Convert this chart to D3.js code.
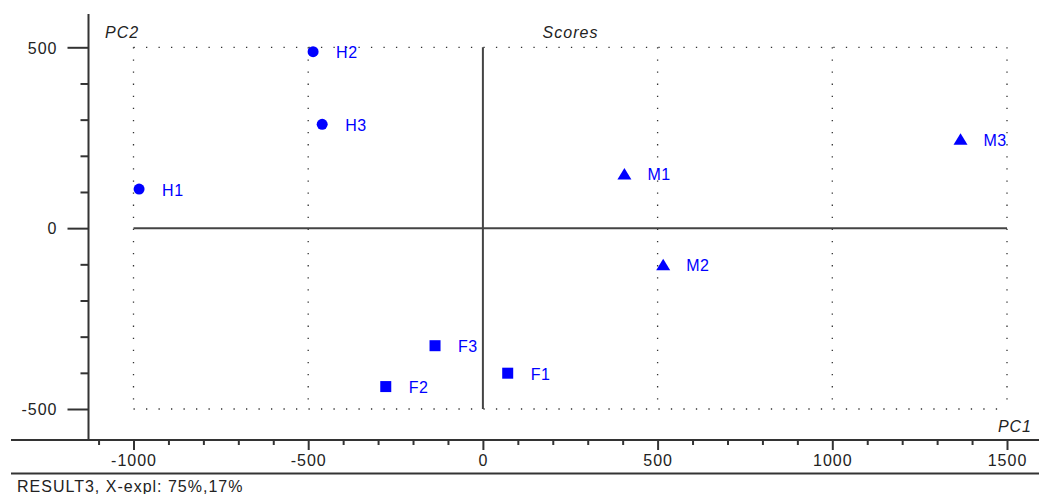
<!DOCTYPE html>
<html><head><meta charset="utf-8">
<script src="https://cdn.jsdelivr.net/npm/d3@7"></script>
<style>
html,body{margin:0;padding:0;background:#fff;}
svg text{font-family:"Liberation Sans",Arial,sans-serif;}
</style></head>
<body>
<svg id="c" width="1039" height="494"></svg>
<script>
// Data
const names   = ["H1","H2","H3","M1","M2","M3","F1","F2","F3"];
const groups  = ["H","H","H","M","M","M","F","F","F"];
const pc1     = [-984,-486,-460,405,516,1367,71,-278,-137];
const pc2     = [108,488,287,150,-101,246,-401,-438,-325];
const xMajor  = [-1000,-500,0,500,1000,1500];
const yMajor  = [-500,0,500];
const xMinor  = d3.range(-1100,1600,100).filter(v=>v%500!==0);
const yMinor  = d3.range(-400,500,100).filter(v=>v%500!==0);
const xGrid   = [-1000,-500,500,1000,1500];
const yGrid   = [-500,500];

const svg = d3.select("#c");
const x = d3.scaleLinear().domain([-1000,1500]).range([133.5,1007]);
const y = d3.scaleLinear().domain([-500,500]).range([409,47.3]);
const axisY = 440, axisX = 88.5;
const ink = "#333";
const fmt = d=>String(d);

// dotted grid
function dotted(x1,y1,x2,y2){
  const len = Math.hypot(x2-x1,y2-y1);
  const step = (x1===x2)?12.05:12.48;
  const n = Math.round(len/step);
  const s = len/n;
  svg.append("line").attr("x1",x1).attr("y1",y1).attr("x2",x2).attr("y2",y2)
    .attr("stroke",ink).attr("stroke-width",1.3)
    .attr("stroke-dasharray",`1.3 ${s-1.3}`);
}
yGrid.forEach(v=>dotted(x(-1000),y(v),x(1500)+1.3,y(v)));
xGrid.forEach(v=>dotted(x(v),y(500),x(v),y(-500)+1.3));

// zero lines
svg.append("line").attr("x1",x(-1000)).attr("x2",x(1500)).attr("y1",y(0)).attr("y2",y(0))
  .attr("stroke","#444").attr("stroke-width",2);
svg.append("line").attr("x1",x(0)).attr("x2",x(0)).attr("y1",y(500)).attr("y2",y(-500))
  .attr("stroke","#444").attr("stroke-width",2);

// axes
const gx = svg.append("g").attr("transform",`translate(0,${axisY})`);
gx.call(d3.axisBottom(x).tickValues(xMajor).tickSize(10).tickPadding(5).tickFormat(fmt));
const gxm = svg.append("g").attr("transform",`translate(0,${axisY})`);
gxm.call(d3.axisBottom(x).tickValues(xMinor).tickSize(5).tickFormat(""));
const gy = svg.append("g").attr("transform",`translate(${axisX},0)`);
gy.call(d3.axisLeft(y).tickValues(yMajor).tickSize(21).tickPadding(10).tickFormat(fmt));
const gym = svg.append("g").attr("transform",`translate(${axisX},0)`);
gym.call(d3.axisLeft(y).tickValues(yMinor).tickSize(8).tickFormat(""));
[gx,gxm,gy,gym].forEach(g=>{
  g.select(".domain").remove();
  g.selectAll("line").attr("stroke",ink).attr("stroke-width",2);
  g.selectAll("text").attr("fill","#222").style("font-size","16px")
   .style("letter-spacing","1px").style("font-family","Liberation Sans, Arial, sans-serif");
});
gx.selectAll("text").attr("dy","0.71em");
gy.selectAll("text").attr("dy","0.36em");

// frame lines
svg.append("line").attr("x1",11).attr("x2",1039).attr("y1",axisY).attr("y2",axisY).attr("stroke",ink).attr("stroke-width",2);
svg.append("line").attr("x1",11).attr("x2",1039).attr("y1",473.5).attr("y2",473.5).attr("stroke",ink).attr("stroke-width",2);
svg.append("line").attr("x1",axisX).attr("x2",axisX).attr("y1",14).attr("y2",axisY).attr("stroke",ink).attr("stroke-width",2);

// titles
const tstyle = s=>s.attr("fill","#222").style("font-size","16px").style("letter-spacing","1px");
tstyle(svg.append("text").attr("x",570.5).attr("y",38).attr("text-anchor","middle").style("font-style","italic").text("Scores"));
tstyle(svg.append("text").attr("x",105).attr("y",38).style("font-style","italic").text("PC2"));
tstyle(svg.append("text").attr("x",1032).attr("y",431.5).attr("text-anchor","end").style("font-style","italic").text("PC1"));
tstyle(svg.append("text").attr("x",17).attr("y",492).text("RESULT3, X-expl: 75%,17%"));

// points
const blue = "#0000ff";
const data = names.map((n,i)=>({n,g:groups[i],x:pc1[i],y:pc2[i]}));
const pts = svg.append("g");
data.forEach(d=>{
  const cx = x(d.x), cy = y(d.y);
  if(d.g==="H"){
    pts.append("circle").attr("cx",cx).attr("cy",cy).attr("r",5.5).attr("fill",blue);
  } else if(d.g==="F"){
    pts.append("rect").attr("x",cx-5.5).attr("y",cy-5.5).attr("width",11).attr("height",11).attr("fill",blue);
  } else {
    pts.append("path").attr("d",`M${cx},${cy-6}L${cx+7},${cy+5.5}L${cx-7},${cy+5.5}Z`).attr("fill",blue);
  }
  pts.append("text").attr("x",cx+23).attr("y",cy+6.5).attr("fill",blue)
    .style("font-size","16px").style("letter-spacing","0.5px").text(d.n);
});
</script>
</body></html>
